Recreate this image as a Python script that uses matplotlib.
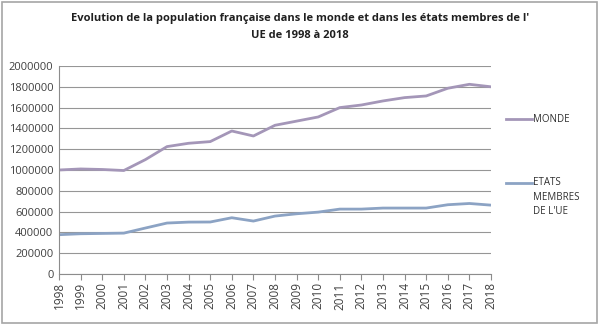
import matplotlib
matplotlib.use("Agg")
import matplotlib.pyplot as plt
from matplotlib.patches import Rectangle

years = list(range(1998, 2019))
monde = [1000000, 1010000, 1005000, 995000, 1100000, 1225000, 1257000, 1273000, 1375000, 1327000,
         1430000, 1470000, 1510000, 1600000, 1625000, 1664000, 1696000, 1712000, 1786000, 1824000, 1800000]
ue = [378000, 387000, 390000, 393000, 442000, 490000, 499000, 500000, 541000, 509000,
      557000, 579000, 595000, 624000, 624000, 634000, 634000, 634000, 666000, 678000, 662000]
yticks = list(range(0, 2000001, 200000))

W, H = 600, 326
fig = plt.figure(figsize=(6, 3.26), dpi=100)
fig.patch.set_facecolor("white")
fig.add_artist(Rectangle((1.5 / W, 3.5 / H), 595 / W, 321 / H, transform=fig.transFigure,
                         fill=False, edgecolor="#A6A6A6", linewidth=1.2))

ax = fig.add_axes([59 / W, 1 - 274 / H, (491 - 59) / W, (274 - 66) / H])
ax.plot(years, monde, color="#A496B8", lw=2, label="MONDE", solid_capstyle="butt")
ax.plot(years, ue, color="#8CA3C4", lw=2, label="ETATS\nMEMBRES\nDE L'UE", solid_capstyle="butt")

ax.set_xlim(1998, 2018)
ax.set_ylim(0, 2000000)
ax.set_yticks(yticks)
ax.set_yticklabels([str(v) for v in yticks])
ax.set_xticks(years)
ax.set_xticklabels([str(y) for y in years], rotation=90)
ax.grid(axis="y", color="#969696", lw=0.8)
ax.set_axisbelow(True)
for s in ["top", "right"]:
    ax.spines[s].set_visible(False)
ax.spines["left"].set_color("#8C8C8C")
ax.spines["bottom"].set_color("#8C8C8C")
ax.tick_params(axis="y", length=0, labelsize=8, colors="#404040", pad=4)
ax.tick_params(axis="x", length=4, direction="out", labelsize=8.5, colors="#404040", pad=2)
ax.tick_params(axis="x", color="#8C8C8C")
for lab in ax.get_xticklabels() + ax.get_yticklabels():
    lab.set_fontfamily("Open Sans")

fig.text(0.5, 1 - 18 / H, "Evolution de la population française dans le monde et dans les états membres de l'",
         ha="center", va="center", fontsize=8, fontweight="bold", family="Open Sans", color="#202020")
fig.text(0.5, 1 - 36 / H, "UE de 1998 à 2018",
         ha="center", va="center", fontsize=8, fontweight="bold", family="Open Sans", color="#202020")

# legend
fig.add_artist(plt.Line2D([506 / W, 532 / W], [1 - 119 / H] * 2, color="#A496B8", lw=2))
fig.text(533 / W, 1 - 119 / H, "MONDE", fontsize=7, family="Open Sans", va="center", color="#303030")
fig.add_artist(plt.Line2D([506 / W, 532 / W], [1 - 183 / H] * 2, color="#8CA3C4", lw=2))
fig.text(533 / W, 1 - 177 / H, "ETATS\nMEMBRES\nDE L'UE", fontsize=7, family="Open Sans", va="top",
         color="#303030", linespacing=1.45)

fig.savefig("out.png", dpi=100)
